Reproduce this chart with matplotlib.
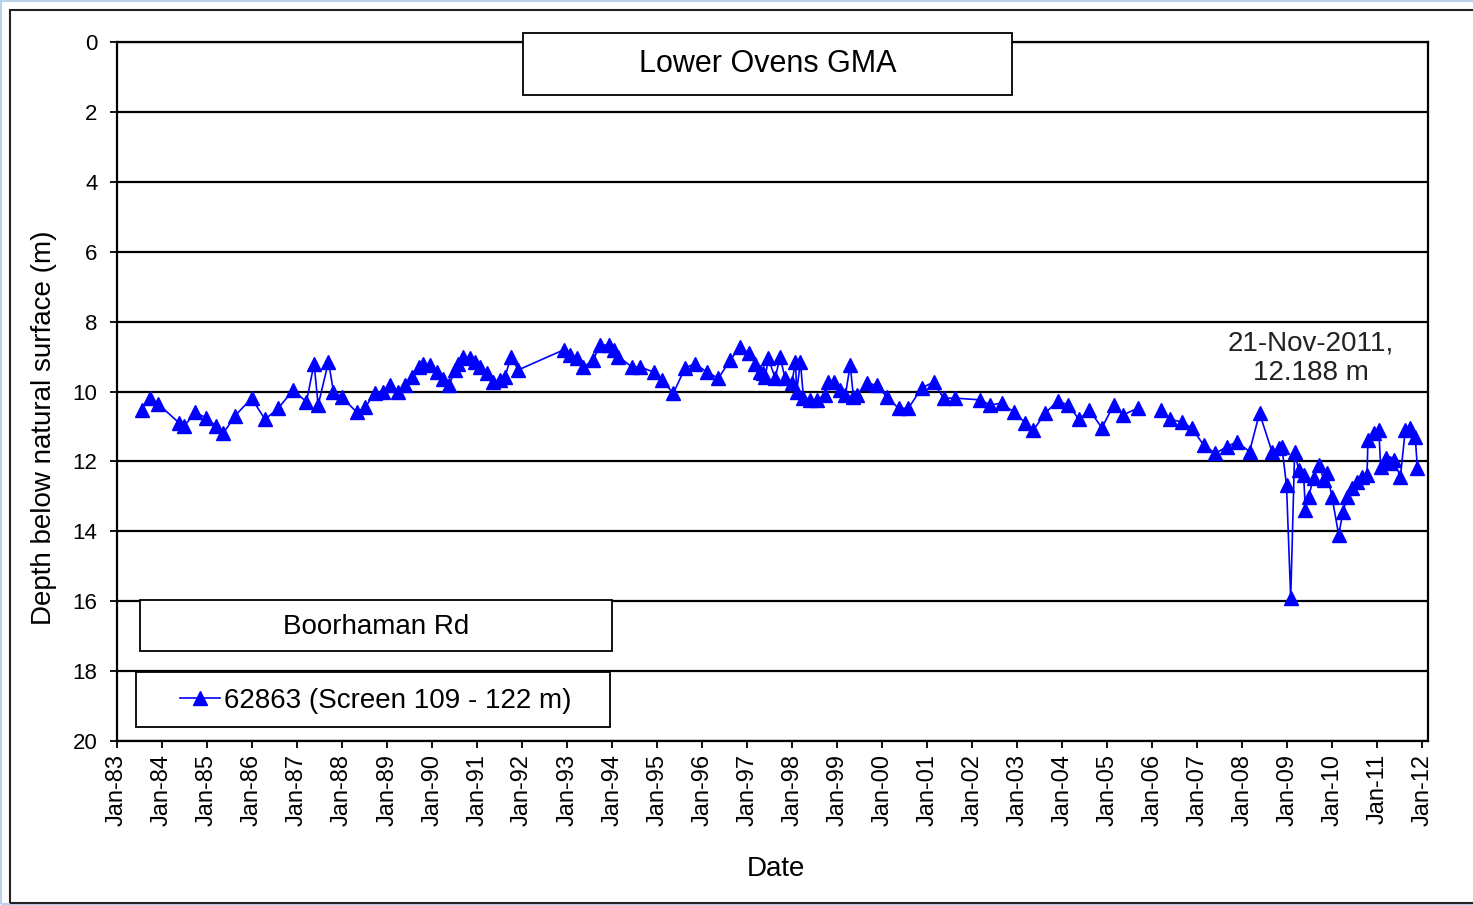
import numpy as np
import pandas as pd
import matplotlib
matplotlib.use("Agg")
import matplotlib.pyplot as plt
import matplotlib.dates as mdates
from matplotlib.patches import Rectangle

plt.rcParams["font.family"] = ["Liberation Sans", "DejaVu Sans"]

title = "Lower Ovens GMA"
site = "Boorhaman Rd"
bore_label = "62863 (Screen 109 - 122 m)"

# (approximate), depth below natural surface in m
dates = [
    "1983-07-20", "1983-09-24", "1983-12-02", "1984-05-19", "1984-06-28",
    "1984-09-24", "1984-12-24", "1985-03-18", "1985-05-12", "1985-08-15",
    "1985-12-28", "1986-04-16", "1986-07-31", "1986-12-02", "1987-03-18",
    "1987-05-19", "1987-06-21", "1987-09-13", "1987-10-23", "1987-12-28",
    "1988-05-01", "1988-07-06", "1988-09-24", "1988-11-28", "1989-01-27",
    "1989-03-30", "1989-05-27", "1989-07-20", "1989-09-13", "1989-10-20",
    "1989-12-16", "1990-02-06", "1990-04-02", "1990-05-19", "1990-07-05",
    "1990-07-31", "1990-09-09", "1990-11-03", "1990-12-16", "1991-01-27",
    "1991-03-18", "1991-05-12", "1991-07-06", "1991-08-15", "1991-10-01",
    "1991-12-02", "1992-12-02", "1993-01-27", "1993-03-18", "1993-05-12",
    "1993-07-31", "1993-09-24", "1993-12-02", "1994-01-12", "1994-02-20",
    "1994-06-10", "1994-08-15", "1994-12-02", "1995-02-06", "1995-05-12",
    "1995-08-15", "1995-11-03", "1996-02-06", "1996-05-12", "1996-08-15",
    "1996-11-03", "1997-01-12", "1997-03-08", "1997-04-16", "1997-05-12",
    "1997-05-27", "1997-06-21", "1997-08-15", "1997-09-24", "1997-11-03",
    "1997-12-28", "1998-01-27", "1998-02-06", "1998-03-08", "1998-04-02",
    "1998-05-27", "1998-07-20", "1998-09-24", "1998-10-20", "1998-12-02",
    "1999-01-27", "1999-03-08", "1999-04-16", "1999-05-12", "1999-06-10",
    "1999-08-28", "1999-11-16", "2000-02-06", "2000-05-12", "2000-07-31",
    "2000-11-16", "2001-02-20", "2001-05-12", "2001-08-15", "2002-03-08",
    "2002-05-27", "2002-08-28", "2002-12-02", "2003-03-08", "2003-05-12",
    "2003-08-15", "2003-11-24", "2004-02-20", "2004-05-15", "2004-08-08",
    "2004-11-17", "2005-02-20", "2005-05-08", "2005-09-02", "2005-12-01",
    "2006-03-08", "2006-05-27", "2006-08-28", "2006-11-17", "2007-02-20",
    "2007-05-27", "2007-08-28", "2007-11-17", "2008-02-28", "2008-05-19",
    "2008-08-28", "2008-10-23", "2008-11-17", "2008-12-24", "2009-01-27",
    "2009-02-28", "2009-04-02", "2009-05-12", "2009-05-26", "2009-06-21",
    "2009-07-31", "2009-09-13", "2009-10-23", "2009-11-17", "2009-12-28",
    "2010-02-20", "2010-03-28", "2010-04-30", "2010-06-10", "2010-07-20",
    "2010-08-28", "2010-10-08", "2010-10-16", "2010-12-02", "2011-01-12",
    "2011-01-27", "2011-03-08", "2011-04-16", "2011-05-12", "2011-07-06",
    "2011-08-15", "2011-09-24", "2011-11-03", "2011-11-21",
]
depth = [
    10.53, 10.19, 10.36, 10.90, 11.00,
    10.60, 10.75, 11.00, 11.20, 10.70,
    10.19, 10.80, 10.48, 9.96, 10.30,
    9.20, 10.39, 9.15, 10.00, 10.15,
    10.60, 10.45, 10.05, 10.00, 9.82,
    10.00, 9.82, 9.58, 9.30, 9.20,
    9.25, 9.44, 9.64, 9.82, 9.38,
    9.20, 9.00, 9.05, 9.15, 9.30,
    9.47, 9.73, 9.67, 9.58, 9.02,
    9.38, 8.81, 8.96, 9.05, 9.30,
    9.10, 8.67, 8.67, 8.81, 9.00,
    9.30, 9.30, 9.44, 9.67, 10.05,
    9.33, 9.20, 9.44, 9.62, 9.10,
    8.73, 8.90, 9.20, 9.44, 9.47,
    9.58, 9.05, 9.62, 9.00, 9.62,
    9.76, 9.15, 10.00, 9.15, 10.19,
    10.24, 10.24, 10.10, 9.73, 9.73,
    9.96, 10.10, 9.24, 10.15, 10.10,
    9.76, 9.82, 10.15, 10.48, 10.48,
    9.90, 9.73, 10.19, 10.19, 10.24,
    10.39, 10.33, 10.59, 10.90, 11.10,
    10.62, 10.27, 10.39, 10.80, 10.53,
    11.04, 10.39, 10.67, 10.48, np.nan,
    10.53, 10.80, 10.87, 11.05, 11.53,
    11.77, 11.58, 11.44, 11.72, 10.62,
    11.72, 11.63, 11.60, 12.68, 15.92,
    11.72, 12.25, 12.39, 13.39, 13.01,
    12.48, 12.10, 12.53, 12.34, 13.01,
    14.10, 13.44, 13.01, 12.77, 12.58,
    12.44, 12.39, 11.39, 11.20, 11.10,
    12.15, 11.91, 12.05, 11.96, 12.44,
    11.10, 11.05, 11.29, 12.188,
]
y_ticks = [0, 2, 4, 6, 8, 10, 12, 14, 16, 18, 20]

dates = pd.to_datetime(dates)

W, H = 1473, 905


def fx(px):
    return px / W


def fy(py):
    return 1 - py / H


fig = plt.figure(figsize=(W / 100, H / 100), dpi=100)

# window frame
fig.add_artist(Rectangle((fx(1), fy(904)), 1.1, fy(1) - fy(904), transform=fig.transFigure,
                         fill=False, ec="#b9d1ea", lw=1.5))
fig.add_artist(Rectangle((fx(10), fy(903)), 1.1, fy(10) - fy(903), transform=fig.transFigure,
                         fill=False, ec="#222222", lw=1.5))

ax = fig.add_axes([fx(117), fy(741), fx(1428) - fx(117), fy(42) - fy(741)])
ax.plot(dates, depth, color="#0000ff", lw=1.2, marker="^", ms=10, label=bore_label, zorder=3)

ax.set_ylim(20, 0)
ax.set_yticks(y_ticks)
ax.yaxis.grid(True, color="black", lw=1.6)
ax.set_axisbelow(True)
ax.set_xlim(pd.Timestamp("1983-01-01"), pd.Timestamp("2012-02-15"))
ax.xaxis.set_major_locator(mdates.YearLocator())
ax.xaxis.set_major_formatter(mdates.DateFormatter("%b-%y"))
ax.tick_params(axis="y", labelsize=16, length=5, width=1.3, pad=9)
ax.tick_params(axis="x", labelsize=17, length=5, width=1.3, pad=4, labelrotation=90)
for s in ax.spines.values():
    s.set_linewidth(1.6)

fig.text(fx(44), fy(428), "Depth below natural surface (m)", rotation=90,
         ha="center", va="center", fontsize=20)
fig.text(fx(776), fy(869), "Date", ha="center", va="center", fontsize=20)

# last reading label
fig.text(fx(1311), fy(358), f"{dates[-1]:%d-%b-%Y},\n{depth[-1]:.3f} m",
         ha="center", va="center", fontsize=20, linespacing=1.15, color="#222222")

# title box
fig.add_artist(Rectangle((fx(523), fy(95)), fx(1012) - fx(523), fy(33) - fy(95),
                         transform=fig.transFigure, fc="white", ec="black", lw=1.3))
fig.text(fx(768), fy(64), title, ha="center", va="center", fontsize=22, zorder=3)

# site box
fig.add_artist(Rectangle((fx(140), fy(651)), fx(612) - fx(140), fy(600) - fy(651),
                         transform=fig.transFigure, fc="white", ec="black", lw=1.3))
fig.text(fx(376), fy(627), site, ha="center", va="center", fontsize=20, zorder=3)

# legend box
fig.add_artist(Rectangle((fx(136), fy(727)), fx(610) - fx(136), fy(672) - fy(727),
                         transform=fig.transFigure, fc="white", ec="black", lw=1.3))
handles, labels = ax.get_legend_handles_labels()
leg = fig.legend(handles, labels, loc="center", bbox_to_anchor=(fx(376), fy(701)),
                 frameon=False, fontsize=20, handlelength=1.45, handletextpad=0.15,
                 borderpad=0)
leg.set_zorder(3)

fig.savefig("out.png", dpi=100)
